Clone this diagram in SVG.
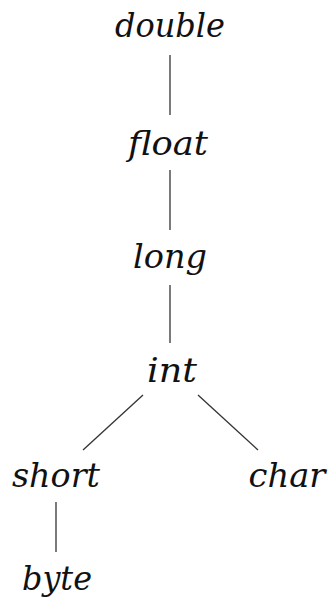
<svg xmlns="http://www.w3.org/2000/svg" width="329" height="600" viewBox="0 0 329 600">
<style>
text{font-family:'DejaVu Serif',serif;font-style:italic;font-size:33px;fill:#111;text-anchor:middle}
.c line{stroke:#333;stroke-width:1.3}
</style>
<rect width="329" height="600" fill="#fff"/>
<g class="c" id="connectors">
<line x1="170" y1="55" x2="170" y2="115"/>
<line x1="170" y1="170" x2="170" y2="230"/>
<line x1="170" y1="285" x2="170" y2="343"/>
<line x1="143" y1="395" x2="83" y2="450"/>
<line x1="198" y1="395" x2="258" y2="450"/>
<line x1="56" y1="502" x2="56" y2="552"/>
</g>
<g id="double"><text x="170" y="37" textLength="110" lengthAdjust="spacingAndGlyphs">double</text></g>
<g id="float"><text x="168" y="155" textLength="80" lengthAdjust="spacingAndGlyphs">float</text></g>
<g id="long"><text x="170" y="268" textLength="74" lengthAdjust="spacingAndGlyphs">long</text></g>
<g id="int"><text x="172" y="382" textLength="50" lengthAdjust="spacingAndGlyphs">int</text></g>
<g id="short"><text x="56" y="487" textLength="88" lengthAdjust="spacingAndGlyphs">short</text></g>
<g id="char"><text x="287" y="487" textLength="77" lengthAdjust="spacingAndGlyphs">char</text></g>
<g id="byte"><text x="57" y="590" textLength="70" lengthAdjust="spacingAndGlyphs">byte</text></g>
</svg>
